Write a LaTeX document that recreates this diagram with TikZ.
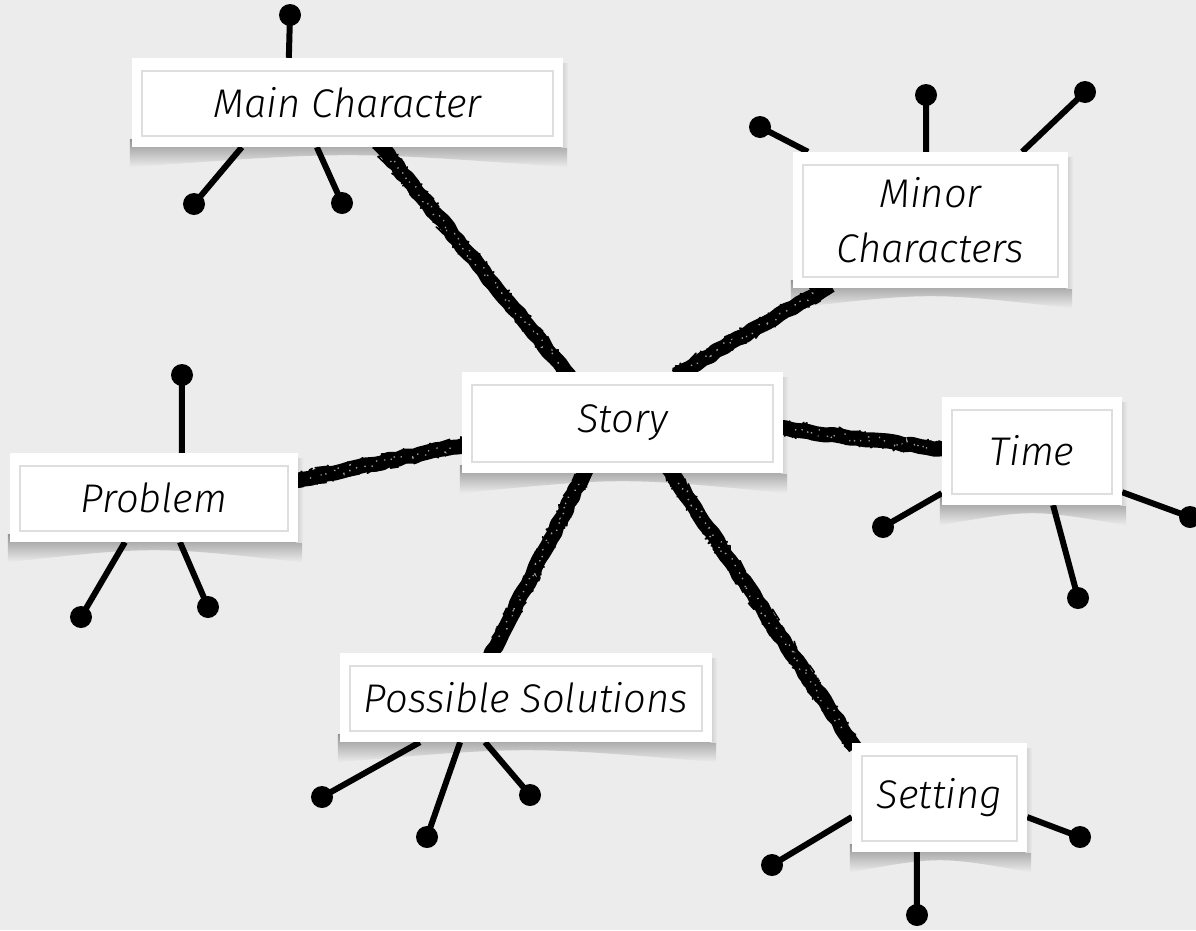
\documentclass[tikz,border=0pt]{standalone}
\usepackage{fontspec}
\newfontfamily\hand{Fira Sans Light}
\usetikzlibrary{calc,decorations.pathmorphing}
\pgfdeclarelayer{bglayer}\pgfdeclarelayer{shadowlayer}\pgfdeclarelayer{linelayer}
\pgfsetlayers{bglayer,shadowlayer,linelayer,main}
\definecolor{bgc}{RGB}{236,236,236}
\definecolor{innerline}{RGB}{222,222,222}
\tikzset{
  card/.style={rectangle, fill=white, inner sep=0pt, align=center,
    font=\hand\itshape\fontsize{40}{55}\selectfont,
    path picture={\draw[innerline, line width=1.3pt]
      ([shift={(10pt,-13pt)}]path picture bounding box.north west) rectangle
      ([shift={(-10pt,11pt)}]path picture bounding box.south east);}},
  dot/.style={circle, fill=black, inner sep=0pt, minimum size=22pt},
  twig/.style={line width=6pt, black},
  brushcore/.style={line width=15pt, black, line join=round, decorate,
    decoration={random steps, segment length=8pt, amplitude=1.2pt}},
  brushedge/.style={line width=1.6pt, black, line join=round, decorate,
    decoration={random steps, segment length=2pt, amplitude=8.5pt}},
  brushspeck/.style={line width=1.5pt, white, opacity=0.6, dash pattern=on 1.2pt off 11pt, decorate,
    decoration={random steps, segment length=2.5pt, amplitude=4pt}}
}
\newcommand\cardshadow[1]{%
  \shade[top color=black!42, bottom color=bgc]
    ($(#1.south west)+(-2pt,8pt)$) -- ($(#1.south east)+(4pt,8pt)$) --
    ($(#1.south east)+(4pt,-20pt)$) .. controls ($(#1.south)+(0pt,-4pt)$) ..
    ($(#1.south west)+(-2pt,-20pt)$) -- cycle;
  \shade[left color=black!20, right color=bgc]
    ($(#1.north east)+(-2pt,-6pt)$) rectangle ($(#1.south east)+(5pt,0pt)$);}
\newcommand\brush[2]{%
  \draw[brushcore] ($(#1)!-6pt!(#2)$) -- ($(#2)!-6pt!(#1)$);
  \draw[brushedge] ($(#1)!-6pt!(#2)$) -- ($(#2)!-6pt!(#1)$);
  \draw[brushedge] ($(#1)!-6pt!(#2)$) -- ($(#2)!-6pt!(#1)$);
  \draw[brushspeck] ($(#1)!12pt!(#2)$) -- ($(#2)!12pt!(#1)$);}
\begin{document}
\begin{tikzpicture}[x=1pt,y=-1pt]
\pgfmathsetseed{7}
\useasboundingbox (0,0) rectangle (1196,930);
\begin{pgfonlayer}{bglayer}
  \fill[bgc] (0,0) rectangle (1196,930);
\end{pgfonlayer}

% cards
\node[card, minimum width=431pt, minimum height=89pt]  (main)    at (347.5,102.5) {Main Character};
\node[card, minimum width=275pt, minimum height=136pt] (minor)   at (930.5,220)   {Minor\\Characters};
\node[card, minimum width=321pt, minimum height=101pt] (story)   at (622.5,422.5) {Story};
\node[card, minimum width=180pt, minimum height=108pt] (time)    at (1032,451)    {Time};
\node[card, minimum width=288pt, minimum height=89pt]  (problem) at (154,497.5)   {Problem};
\node[card, minimum width=372pt, minimum height=89pt]  (sol)     at (526,697.5)   {Possible Solutions};
\node[card, minimum width=175pt, minimum height=109pt] (setting) at (939.5,797.5) {Setting};

% dots
\node[dot] (mt)  at (290,15)  {};
\node[dot] (mbl) at (194,204) {};
\node[dot] (mbr) at (342,203) {};
\node[dot] (nl)  at (760,127) {};
\node[dot] (nt)  at (926,95)  {};
\node[dot] (nr)  at (1085,92) {};
\node[dot] (tl)  at (883,527) {};
\node[dot] (tb)  at (1078,598) {};
\node[dot] (tr)  at (1190,517) {};
\node[dot] (pt)  at (182,375) {};
\node[dot] (pbl) at (81,617)  {};
\node[dot] (pbr) at (208,607) {};
\node[dot] (sl)  at (322,797) {};
\node[dot] (sb)  at (427,837) {};
\node[dot] (sr)  at (530,795) {};
\node[dot] (el)  at (772,865) {};
\node[dot] (eb)  at (917,915) {};
\node[dot] (er)  at (1080,837) {};

\begin{pgfonlayer}{shadowlayer}
  \foreach \c in {main,minor,story,time,problem,sol,setting} {\cardshadow{\c}}
\end{pgfonlayer}

\begin{pgfonlayer}{linelayer}
  \brush{story.138.7}{main.-53.2}
  \brush{story.41.3}{minor.213.7}
  \brush{story.-2.7}{time.179.4}
  \brush{story.188.7}{problem.7.7}
  \brush{story.233.4}{sol.127.2}
  \brush{story.-46.8}{setting.148.1}

  \draw[twig] (mt.center)  -- ($(main.north west)!0.364!(main.north east)$);
  \draw[twig] (mbl.center) -- ($(main.south west)!0.255!(main.south east)$);
  \draw[twig] (mbr.center) -- ($(main.south west)!0.429!(main.south east)$);
  \draw[twig] (nl.center)  -- ($(minor.north west)!0.055!(minor.north east)$);
  \draw[twig] (nt.center)  -- ($(minor.north west)!0.484!(minor.north east)$);
  \draw[twig] (nr.center)  -- ($(minor.north west)!0.833!(minor.north east)$);
  \draw[twig] (tl.center)  -- ($(time.north west)!0.889!(time.south west)$);
  \draw[twig] (tb.center)  -- ($(time.south west)!0.617!(time.south east)$);
  \draw[twig] (tr.center)  -- ($(time.north east)!0.88!(time.south east)$);
  \draw[twig] (pt.center)  -- ($(problem.north west)!0.597!(problem.north east)$);
  \draw[twig] (pbl.center) -- ($(problem.south west)!0.399!(problem.south east)$);
  \draw[twig] (pbr.center) -- ($(problem.south west)!0.59!(problem.south east)$);
  \draw[twig] (sl.center)  -- ($(sol.south west)!0.215!(sol.south east)$);
  \draw[twig] (sb.center)  -- ($(sol.south west)!0.323!(sol.south east)$);
  \draw[twig] (sr.center)  -- ($(sol.south west)!0.39!(sol.south east)$);
  \draw[twig] (el.center)  -- ($(setting.north west)!0.679!(setting.south west)$);
  \draw[twig] (eb.center)  -- ($(setting.south west)!0.371!(setting.south east)$);
  \draw[twig] (er.center)  -- ($(setting.north east)!0.679!(setting.south east)$);
\end{pgfonlayer}
\end{tikzpicture}
\end{document}
